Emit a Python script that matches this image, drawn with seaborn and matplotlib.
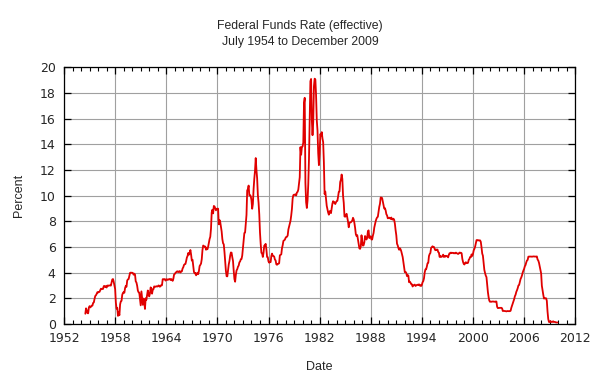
import numpy as np
import pandas as pd
import matplotlib
matplotlib.use("Agg")
import matplotlib.pyplot as plt
import seaborn as sns
from matplotlib.ticker import FixedLocator, MultipleLocator

# monthly effective federal funds rate, July 1954 .. December 2009
start_month = "1954-07"
rate_1950s = [0.80, 1.22, 1.06, 0.85, 0.83, 1.28,
              1.39, 1.29, 1.35, 1.43, 1.43, 1.64, 1.68, 1.96, 2.18, 2.24, 2.35, 2.48,
              2.45, 2.50, 2.50, 2.62, 2.75, 2.71, 2.75, 2.73, 2.95, 2.96, 2.88, 2.94,
              2.84, 3.00, 2.96, 3.00, 3.00, 3.00, 2.99, 3.24, 3.47, 3.50, 3.28, 2.98,
              2.72, 1.67, 1.20, 1.26, 0.63, 0.93, 0.68, 1.53, 1.76, 1.80, 2.27, 2.42,
              2.48, 2.43, 2.80, 2.96, 2.90, 3.39, 3.47, 3.50, 3.76, 3.98, 4.00, 3.99]
rate_1960s = [3.99, 3.97, 3.84, 3.92, 3.85, 3.32, 3.23, 2.98, 2.60, 2.47, 2.44, 1.98,
              1.45, 2.54, 2.02, 1.49, 1.98, 1.73, 1.17, 2.00, 1.88, 2.26, 2.61, 2.33,
              2.15, 2.37, 2.85, 2.78, 2.36, 2.68, 2.71, 2.93, 2.90, 2.90, 2.94, 2.93,
              2.92, 3.00, 2.98, 2.90, 3.00, 2.99, 3.02, 3.49, 3.48, 3.50, 3.48, 3.38,
              3.48, 3.48, 3.43, 3.47, 3.50, 3.50, 3.42, 3.50, 3.45, 3.36, 3.52, 3.85,
              3.90, 3.98, 4.04, 4.09, 4.10, 4.04, 4.09, 4.12, 4.01, 4.08, 4.10, 4.32,
              4.42, 4.60, 4.65, 4.67, 4.90, 5.17, 5.30, 5.53, 5.40, 5.53, 5.76, 5.40,
              4.94, 5.00, 4.53, 4.05, 3.94, 3.98, 3.79, 3.90, 3.99, 3.88, 4.13, 4.51,
              4.60, 4.71, 5.05, 5.76, 6.11, 6.07, 6.02, 6.03, 5.78, 5.91, 5.82, 6.02,
              6.30, 6.61, 6.79, 7.41, 8.67, 8.90, 8.61, 9.19, 9.15, 9.00, 8.85, 8.97]
rate_1970s = [8.98, 8.98, 7.76, 8.10, 7.94, 7.60, 7.21, 6.61, 6.29, 6.20, 5.60, 4.90,
              4.14, 3.72, 3.71, 4.16, 4.63, 4.91, 5.31, 5.57, 5.55, 5.20, 4.91, 4.14,
              3.50, 3.29, 3.83, 4.17, 4.27, 4.46, 4.55, 4.80, 4.87, 5.04, 5.06, 5.33,
              5.94, 6.58, 7.09, 7.12, 7.84, 8.49, 10.40, 10.50, 10.78, 10.01, 10.03, 9.95,
              9.65, 8.97, 9.35, 10.51, 11.31, 11.93, 12.92, 12.01, 11.34, 10.06, 9.45, 8.53,
              7.13, 6.24, 5.54, 5.49, 5.22, 5.55, 6.10, 6.14, 6.24, 5.82, 5.22, 5.20,
              4.87, 4.77, 4.84, 4.82, 5.29, 5.48, 5.31, 5.29, 5.25, 5.02, 4.95, 4.65,
              4.61, 4.68, 4.69, 4.73, 5.35, 5.39, 5.42, 5.90, 6.14, 6.47, 6.51, 6.56,
              6.70, 6.78, 6.79, 6.89, 7.36, 7.60, 7.81, 8.04, 8.45, 8.96, 9.76, 10.03,
              10.07, 10.06, 10.09, 10.01, 10.24, 10.29, 10.47, 10.94, 11.43, 13.77, 13.18, 13.78]
rate_1980s = [13.82, 14.13, 17.19, 17.61, 10.98, 9.47, 9.03, 9.61, 10.87, 12.81, 15.85, 18.90,
              19.08, 15.93, 14.70, 15.72, 18.52, 19.10, 19.04, 17.82, 15.87, 15.08, 13.31, 12.37,
              13.22, 14.78, 14.68, 14.94, 14.45, 14.15, 12.59, 10.12, 10.31, 9.71, 9.20, 8.95,
              8.68, 8.51, 8.77, 8.80, 8.63, 8.98, 9.37, 9.56, 9.45, 9.48, 9.34, 9.47,
              9.56, 9.59, 9.91, 10.29, 10.32, 11.06, 11.23, 11.64, 11.30, 9.99, 9.43, 8.38,
              8.35, 8.50, 8.58, 8.27, 7.97, 7.53, 7.88, 7.90, 7.92, 7.99, 8.05, 8.27,
              8.14, 7.86, 7.48, 6.99, 6.85, 6.92, 6.56, 6.17, 5.89, 5.85, 6.04, 6.91,
              6.43, 6.10, 6.13, 6.37, 6.85, 6.73, 6.58, 6.73, 7.22, 7.29, 6.69, 6.77,
              6.83, 6.58, 6.58, 6.87, 7.09, 7.51, 7.75, 8.01, 8.19, 8.30, 8.35, 8.76,
              9.12, 9.36, 9.85, 9.84, 9.81, 9.53, 9.24, 8.99, 9.02, 8.84, 8.55, 8.45]
rate_1990s = [8.23, 8.24, 8.28, 8.26, 8.18, 8.29, 8.15, 8.13, 8.20, 8.11, 7.81, 7.31,
              6.91, 6.25, 6.12, 5.91, 5.78, 5.90, 5.82, 5.66, 5.45, 5.21, 4.81, 4.43,
              4.03, 4.06, 3.98, 3.73, 3.82, 3.76, 3.25, 3.30, 3.22, 3.10, 3.09, 2.92,
              3.02, 3.03, 3.07, 2.96, 3.00, 3.04, 3.06, 3.03, 3.09, 2.99, 3.02, 2.96,
              3.05, 3.25, 3.34, 3.56, 4.01, 4.25, 4.26, 4.47, 4.73, 4.76, 5.29, 5.45,
              5.53, 5.92, 5.98, 6.05, 6.01, 6.00, 5.85, 5.74, 5.80, 5.76, 5.80, 5.60,
              5.56, 5.22, 5.31, 5.22, 5.24, 5.27, 5.40, 5.22, 5.30, 5.24, 5.31, 5.29,
              5.25, 5.19, 5.39, 5.51, 5.50, 5.56, 5.52, 5.54, 5.54, 5.50, 5.52, 5.50,
              5.56, 5.51, 5.49, 5.45, 5.49, 5.56, 5.54, 5.55, 5.51, 5.07, 4.83, 4.68,
              4.63, 4.76, 4.81, 4.74, 4.74, 4.76, 4.99, 5.07, 5.22, 5.20, 5.42, 5.30]
rate_2000s = [5.45, 5.73, 5.85, 6.02, 6.27, 6.53, 6.54, 6.50, 6.52, 6.51, 6.51, 6.40,
              5.98, 5.49, 5.31, 4.80, 4.21, 3.97, 3.77, 3.65, 3.07, 2.49, 2.09, 1.82,
              1.73, 1.74, 1.73, 1.75, 1.75, 1.75, 1.73, 1.74, 1.75, 1.75, 1.34, 1.24,
              1.24, 1.26, 1.25, 1.26, 1.26, 1.22, 1.01, 1.03, 1.01, 1.01, 1.00, 0.98,
              1.00, 1.01, 1.00, 1.00, 1.00, 1.03, 1.26, 1.43, 1.61, 1.76, 1.93, 2.16,
              2.28, 2.50, 2.63, 2.79, 3.00, 3.04, 3.26, 3.50, 3.62, 3.78, 4.00, 4.16,
              4.29, 4.49, 4.59, 4.79, 4.94, 4.99, 5.24, 5.25, 5.25, 5.25, 5.25, 5.24,
              5.25, 5.26, 5.26, 5.25, 5.25, 5.25, 5.26, 5.02, 4.94, 4.76, 4.49, 4.24,
              3.94, 2.98, 2.61, 2.28, 1.98, 2.00, 2.01, 2.00, 1.81, 0.97, 0.39, 0.16,
              0.15, 0.22, 0.18, 0.15, 0.18, 0.21, 0.16, 0.16, 0.15, 0.12, 0.12, 0.12]

year_ticks = [1952, 1958, 1964, 1970, 1976, 1982, 1988, 1994, 2000, 2006, 2012]
pct_ticks = [0, 2, 4, 6, 8, 10, 12, 14, 16, 18, 20]

rates = rate_1950s + rate_1960s + rate_1970s + rate_1980s + rate_1990s + rate_2000s
months = pd.period_range(start_month, periods=len(rates), freq="M")
df = pd.DataFrame({
    "date": months.year + (months.month - 1) / 12.0,
    "rate": rates,
})

sns.set_style("white")
plt.rcParams["font.family"] = ["DejaVu Sans"]

fig = plt.figure(figsize=(6, 3.75), dpi=100)
ax = fig.add_axes([0.1067, 0.136, 0.852, 0.685])

sns.lineplot(data=df, x="date", y="rate", ax=ax, color="#e00000", linewidth=1.3)

ax.set_xlim(year_ticks[0], year_ticks[-1])
ax.set_ylim(pct_ticks[0], pct_ticks[-1])
ax.xaxis.set_major_locator(FixedLocator(year_ticks))
ax.xaxis.set_minor_locator(MultipleLocator(1))
ax.yaxis.set_major_locator(FixedLocator(pct_ticks))

ax.grid(True, which="major", color="#a0a0a0", linewidth=0.8)
ax.set_axisbelow(True)
for s in ax.spines.values():
    s.set_color("black")
    s.set_linewidth(0.9)

ax.tick_params(which="both", direction="in", top=True, right=True,
               bottom=True, left=True, color="black")
ax.tick_params(which="major", length=5, width=0.9, labelsize=9, pad=6)
ax.tick_params(which="minor", length=3, width=0.8)

ax.set_xlabel("Date", fontsize=9, family="Liberation Sans", labelpad=11)
ax.set_ylabel("Percent", fontsize=9, family="Liberation Sans", labelpad=11)

fig.text(0.5, 0.93, "Federal Funds Rate (effective)", ha="center", va="center",
         fontsize=8.8, family="Liberation Sans")
fig.text(0.5, 0.887, "July 1954 to December 2009", ha="center", va="center",
         fontsize=8.8, family="Liberation Sans")

fig.savefig("out.png", dpi=100)
